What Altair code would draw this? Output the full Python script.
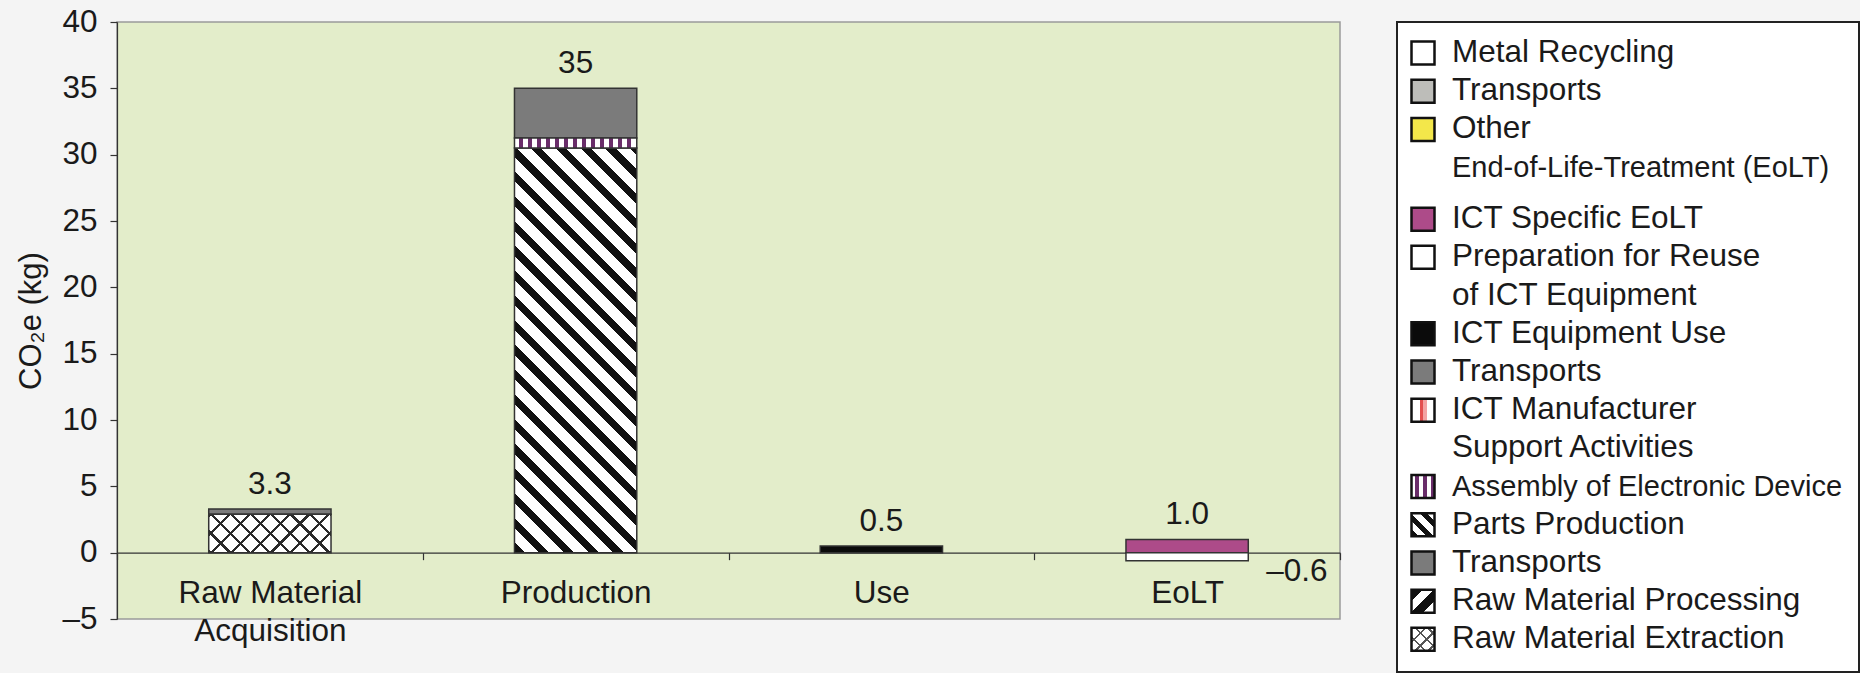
import math
import altair as alt
import pandas as pd

FONT = "Liberation Sans"
TXT = "#1a1a1a"

# ---------------- data ----------------
stages = ["Raw Material Acquisition", "Production", "Use", "EoLT"]

seg_stage = ["Raw Material Acquisition", "Raw Material Acquisition",
             "Production", "Production", "Production",
             "Use", "EoLT", "EoLT"]
seg_component = ["Raw Material Extraction", "Transports (raw material)",
                 "Parts Production", "Assembly of Electronic Device", "Transports (production)",
                 "ICT Equipment Use", "ICT Specific EoLT", "Metal Recycling"]
seg_value = [2.9, 0.4, 30.5, 0.75, 3.75, 0.5, 1.0, -0.6]
seg_fill = ["white", "#7b7b7b", "white", "white", "#7b7b7b", "#0b0b0b", "#ad4b89", "white"]

total_stage = ["Raw Material Acquisition", "Production", "Use", "EoLT"]
total_value = [3.3, 35, 0.5, 1.0]
total_text = ["3.3", "35", "0.5", "1.0"]

neg_stage = ["EoLT"]
neg_value = [-0.6]
neg_text = ["\u20130.6"]

legend_labels = ["Metal Recycling", "Transports", "Other", "End-of-Life-Treatment (EoLT)",
                 "ICT Specific EoLT", "Preparation for Reuse", "of ICT Equipment",
                 "ICT Equipment Use", "Transports", "ICT Manufacturer", "Support Activities",
                 "Assembly of Electronic Device", "Parts Production", "Transports",
                 "Raw Material Processing", "Raw Material Extraction"]
legend_kind = ["white", "#bdbdb9", "#f3e74a", "", "#ad4b89", "white", "", "#0b0b0b",
               "#7b7b7b", "support", "", "assembly", "parts", "#7b7b7b",
               "processing", "extraction"]
legend_condensed = [False, False, False, True, False, False, False, False, False,
                    False, False, True, False, False, False, False]

# ---------------- layout constants ----------------
W, H = 1223, 597
YMIN, YMAX = -5, 40
PXU = H / (YMAX - YMIN)
BAND = 0.4
BAR_W = BAND * W / len(stages)


def diag_gradient(w, h, period, frac, dark, light, direction):
    """45-degree stripes inside a w x h box (direction 1 = '\\', -1 = '/')."""
    k = (w + h) / (w * w + h * h)
    if direction > 0:
        x1, y1, x2, y2 = 0, 1, k * w, 1 - k * h
    else:
        x1, y1, x2, y2 = 0, 0, k * w, k * h
    n = (w + h) / math.sqrt(2) / period
    stops = []
    i = 0
    while i / n < 1:
        a = i / n
        b = min((i + frac) / n, 1)
        c = min((i + 1) / n, 1)
        stops += [(a, dark), (b, dark), (b, light), (c, light)]
        i += 1
    return alt.Gradient(gradient="linear", x1=x1, y1=y1, x2=x2, y2=y2,
                        stops=[alt.GradientStop(offset=o, color=col) for o, col in stops])


def vert_gradient(w, period, frac, dark, light):
    n = w / period
    stops = []
    i = 0
    while i / n < 1:
        a = i / n
        b = min((i + frac) / n, 1)
        c = min((i + 1) / n, 1)
        stops += [(a, light), (b, light), (b, dark), (c, dark)]
        i += 1
    return alt.Gradient(gradient="linear", x1=0, y1=0, x2=1, y2=0,
                        stops=[alt.GradientStop(offset=o, color=col) for o, col in stops])


seg_df = pd.DataFrame({"stage": seg_stage, "component": seg_component,
                       "value": seg_value, "fill": seg_fill,
                       "order": list(range(len(seg_stage)))})
tot_df = pd.DataFrame({"stage": total_stage, "value": total_value, "text": total_text})
neg_df = pd.DataFrame({"stage": neg_stage, "value": neg_value, "text": neg_text})

xscale = alt.Scale(domain=stages, paddingInner=0, paddingOuter=0)
yscale = alt.Scale(domain=[YMIN, YMAX], nice=False, zero=False)

x_axis = alt.Axis(title=None, orient="bottom", offset=-(H - (YMAX) * PXU), labelAngle=0,
                  labelFont=FONT, labelFontSize=31.5, labelColor=TXT, labelPadding=18,
                  labelLineHeight=38, labelBaseline="top", labelLimit=0,
                  labelExpr="datum.label == 'Raw Material Acquisition' ? ['Raw Material', 'Acquisition'] : datum.label",
                  tickBand="extent", tickSize=7, tickColor="#333", tickWidth=1.2,
                  domainColor="#333", domainWidth=1.2)
y_axis = alt.Axis(title="CO\u2082e (kg)", values=list(range(-5, 41, 5)), grid=False,
                  labelFont=FONT, labelFontSize=31.5, labelColor=TXT, labelPadding=13,
                  labelExpr="datum.value < 0 ? '\u2013' + format(-datum.value, 'd') : datum.label",
                  tickSize=7, tickColor="#333", tickWidth=1.2,
                  domainColor="#333", domainWidth=1.2,
                  titleFont=FONT, titleFontSize=31, titleFontWeight="normal",
                  titleColor=TXT, titlePadding=14)

X_ENC = alt.X("stage:N", scale=xscale, axis=x_axis, sort=stages)

base = alt.Chart(seg_df).transform_stack(
    stack="value", groupby=["stage"], as_=["y0", "y1"],
    sort=[alt.SortField("order", order="ascending")]
)

def seg_enc(ch):
    return ch.encode(x=X_ENC,
                     y=alt.Y("y0:Q", scale=yscale, axis=y_axis),
                     y2="y1:Q")

STROKE = dict(stroke="#333", strokeWidth=1.5)

plain = seg_enc(base.transform_filter(
    alt.FieldOneOfPredicate(field="component", oneOf=[
        "Transports (raw material)", "Transports (production)", "ICT Equipment Use",
        "ICT Specific EoLT", "Metal Recycling"]))
    .mark_bar(width=BAR_W, **STROKE)).encode(fill=alt.Fill("fill:N", scale=None))

h_parts = 30.5 * PXU
parts = seg_enc(base.transform_filter(alt.datum.component == "Parts Production")
                .mark_bar(width=BAR_W, fill=diag_gradient(BAR_W, h_parts, 17.5, 0.42, "#111111", "white", 1), **STROKE))

assembly = seg_enc(base.transform_filter(alt.datum.component == "Assembly of Electronic Device")
                   .mark_bar(width=BAR_W, fill=vert_gradient(BAR_W, 9, 0.5, "#6a2d6a", "white"), **STROKE))

h_ext = 2.9 * PXU
ext1 = seg_enc(base.transform_filter(alt.datum.component == "Raw Material Extraction")
               .mark_bar(width=BAR_W, fill=diag_gradient(BAR_W, h_ext, 14, 0.16, "#2a2a2a", "white", 1)))
ext2 = seg_enc(base.transform_filter(alt.datum.component == "Raw Material Extraction")
               .mark_bar(width=BAR_W, fill=diag_gradient(BAR_W, h_ext, 14, 0.16, "#2a2a2a", "rgba(255,255,255,0)", -1), **STROKE))

totals = alt.Chart(tot_df).mark_text(baseline="alphabetic", dy=-15, font=FONT, fontSize=31.5, color=TXT).encode(
    x=X_ENC, y=alt.Y("value:Q", scale=yscale, axis=y_axis), text="text:N")

negs = alt.Chart(neg_df).mark_text(align="left", baseline="top", dx=79, dy=-5, font=FONT, fontSize=31.5, color=TXT).encode(
    x=X_ENC, y=alt.Y("value:Q", scale=yscale, axis=y_axis), text="text:N")

main = alt.layer(plain, parts, assembly, ext1, ext2, totals, negs).properties(
    width=W, height=H,
    view=alt.ViewBackground(fill="#e3edca", stroke="#9a9a9a", strokeWidth=1.5))

# ---------------- legend panel ----------------
LW, LH = 462, 650
ROW_PX = 38.2
TOP_OFF = 31
rows = []
for i in range(len(legend_labels)):
    rows.append(i + (0.35 if i >= 4 else 0))
leg_df = pd.DataFrame({"label": legend_labels, "row": rows, "kind": legend_kind,
                       "fs": [29 if c else 31.5 for c in legend_condensed]})

ly = alt.Y("row:Q", axis=None,
           scale=alt.Scale(domain=[-TOP_OFF / ROW_PX, (LH - TOP_OFF) / ROW_PX], reverse=True, nice=False, zero=False))
lbase = alt.Chart(leg_df)
SYM = dict(shape="square", size=23 * 23, stroke="#111", strokeWidth=2.5, opacity=1)

plain_kinds = [k for k in legend_kind if k.startswith("#") or k == "white"]
leg_plain = lbase.transform_filter(
    alt.FieldOneOfPredicate(field="kind", oneOf=sorted(set(plain_kinds)))
).mark_point(filled=True, **SYM).encode(x=alt.value(26), y=ly, fill=alt.Fill("kind:N", scale=None))

def leg_sym(kind, fill, stroke=True):
    kw = dict(SYM)
    if not stroke:
        kw.pop("stroke"); kw.pop("strokeWidth")
    return lbase.transform_filter(alt.datum.kind == kind).mark_point(
        filled=True, fill=fill, **kw).encode(x=alt.value(26), y=ly)

support_grad = alt.Gradient(gradient="linear", x1=0, y1=0, x2=1, y2=0, stops=[
    alt.GradientStop(offset=0, color="white"), alt.GradientStop(offset=0.35, color="white"),
    alt.GradientStop(offset=0.35, color="#e34f4f"), alt.GradientStop(offset=0.5, color="#e34f4f"),
    alt.GradientStop(offset=0.5, color="#f3a3a3"), alt.GradientStop(offset=0.68, color="#f3a3a3"),
    alt.GradientStop(offset=0.68, color="white"), alt.GradientStop(offset=1, color="white")])

leg_support = leg_sym("support", support_grad)
leg_assembly = leg_sym("assembly", vert_gradient(23, 8, 0.5, "#6a2d6a", "white"))
leg_parts = leg_sym("parts", diag_gradient(23, 23, 11, 0.45, "#111111", "white", 1))
leg_proc = leg_sym("processing", diag_gradient(23, 23, 16, 0.5, "#111111", "white", -1))
leg_ext1 = leg_sym("extraction", diag_gradient(23, 23, 9, 0.2, "#555555", "white", 1), stroke=False)
leg_ext2 = leg_sym("extraction", diag_gradient(23, 23, 9, 0.2, "#555555", "rgba(255,255,255,0)", -1))

leg_text = lbase.mark_text(align="left", baseline="middle", font=FONT, color=TXT).encode(
    x=alt.value(55), y=ly, text="label:N", size=alt.Size("fs:Q", scale=None))

legend = alt.layer(leg_plain, leg_support, leg_assembly, leg_parts, leg_proc,
                   leg_ext1, leg_ext2, leg_text).properties(
    width=LW, height=LH,
    view=alt.ViewBackground(fill="white", stroke="#222", strokeWidth=2))

chart = alt.hconcat(main, legend, spacing=54).configure(
    background="#f4f4f4",
    padding={"left": 15, "top": 5, "right": 0, "bottom": 0},
)

chart.save("out.html", embed_options={"renderer": "svg", "actions": False})
